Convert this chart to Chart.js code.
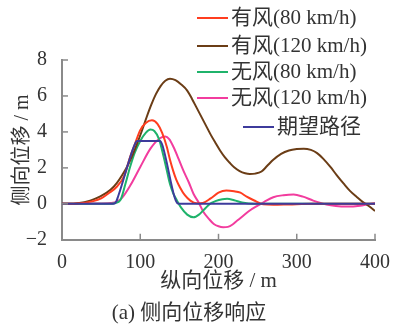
<!DOCTYPE html>
<html>
<head>
<meta charset="utf-8">
<script src="https://cdn.jsdelivr.net/npm/chart.js@4.4.1/dist/chart.umd.min.js"></script>
<style>
html, body { margin: 0; padding: 0; background: #fff; }
</style>
</head>
<body>
<canvas id="dispChart" width="393" height="328"></canvas>
<script>
// longitudinal position (m) and lateral displacement (m)
const windLowX  = [0, 20, 40, 50, 60, 70, 80, 87, 93, 100, 107, 115, 122, 128, 134, 138, 142, 146, 151, 157, 164, 172, 180, 190, 200, 210, 220, 228, 236, 245, 257, 270, 290, 320, 400];
const windLowY  = [0, 0.02, 0.15, 0.3, 0.6, 0.95, 1.6, 2.6, 3.3, 4.1, 4.5, 4.65, 4.45, 3.95, 3.16, 2.45, 1.85, 1.35, 0.9, 0.48, 0.18, 0.03, 0.05, 0.3, 0.62, 0.74, 0.7, 0.62, 0.4, 0.2, -0.03, -0.05, -0.03, 0, 0];

const windHighX = [0, 10, 20, 36, 49, 62, 70, 77, 83, 90, 96, 102, 108, 114, 120, 126, 132, 138, 145, 152, 160, 166, 172, 178, 184, 190, 196, 202, 208, 214, 220, 227, 234, 240, 247, 255, 262, 270, 280, 290, 300, 309, 318, 326, 334, 343, 351, 360, 368, 377, 385, 392, 400];
const windHighY = [0, 0, 0.03, 0.18, 0.41, 0.78, 1.15, 1.6, 2.05, 2.7, 3.35, 4.05, 4.8, 5.5, 6.1, 6.55, 6.85, 6.96, 6.88, 6.65, 6.3, 5.85, 5.35, 4.85, 4.35, 3.85, 3.4, 2.97, 2.6, 2.3, 2.03, 1.82, 1.7, 1.66, 1.68, 1.8, 2.1, 2.45, 2.78, 2.97, 3.05, 3.07, 3.0, 2.82, 2.5, 2.05, 1.6, 1.12, 0.72, 0.37, 0.08, -0.12, -0.4];

const calmLowX  = [0, 60, 68, 74.5, 81, 87, 93, 100, 107, 113, 118, 124, 130, 134, 138, 142, 147, 152, 160, 168, 175, 182, 189, 196, 205, 211, 220, 230, 245, 400];
const calmLowY  = [0, 0, 0.05, 0.2, 1.1, 2.05, 2.85, 3.5, 3.95, 4.13, 4.05, 3.6, 2.6, 1.85, 1.1, 0.6, 0.18, -0.2, -0.6, -0.75, -0.6, -0.3, 0, 0.15, 0.26, 0.28, 0.2, 0.08, 0, 0];

const calmHighX = [0, 40, 62, 70, 77, 87, 100, 113, 125, 132, 137, 142.5, 149, 155, 162, 168, 175, 181, 188, 194, 200, 206, 212, 218, 224, 232, 240, 250, 258, 270, 283, 296, 308, 321, 338, 350, 364, 381, 400];
const calmHighY = [0, 0.02, 0.05, 0.12, 0.35, 1.0, 2.05, 3.07, 3.65, 3.75, 3.6, 3.16, 2.5, 1.86, 1.2, 0.56, 0.05, -0.47, -0.85, -1.12, -1.25, -1.3, -1.28, -1.15, -0.93, -0.65, -0.37, -0.1, 0.1, 0.37, 0.48, 0.52, 0.4, 0.18, -0.04, -0.12, -0.15, -0.1, 0.05];

const targetX   = [0, 66, 69, 72, 93, 96, 125, 128, 144, 147, 150, 400];
const targetY   = [0, 0, 0.1, 0.45, 3.3, 3.5, 3.5, 3.3, 0.35, 0.05, 0, 0];

const xTicks = [0, 100, 200, 300, 400];
const yTicks = [-2, 0, 2, 4, 6, 8];

const seriesNames = ['有风(80 km/h)', '有风(120 km/h)', '无风(80 km/h)', '无风(120 km/h)', '期望路径'];
const seriesColors = ['#ff3d1f', '#6b3d16', '#1fb36b', '#f23c9e', '#3d3b9c'];

const axisGray = '#8a8a8a';
const textColor = '#333';
const FONT = '"Liberation Serif", "Times New Roman", "DejaVu Serif", "Noto Sans CJK SC", serif';

function toPoints(xs, ys) {
    return xs.map((x, i) => ({ x: x, y: ys[i] }));
}

const seriesData = [
    toPoints(windLowX, windLowY),
    toPoints(windHighX, windHighY),
    toPoints(calmLowX, calmLowY),
    toPoints(calmHighX, calmHighY),
    toPoints(targetX, targetY)
];

// ticks drawn inward from the axes
const innerTicks = {
    id: 'innerTicks',
    afterDatasetsDraw(chart) {
        const { ctx, chartArea, scales: { x, y } } = chart;
        ctx.save();
        ctx.strokeStyle = axisGray;
        ctx.lineWidth = 1.5;
        x.ticks.forEach(t => {
            const px = x.getPixelForValue(t.value);
            ctx.beginPath();
            ctx.moveTo(px, chartArea.bottom);
            ctx.lineTo(px, chartArea.bottom - 6);
            ctx.stroke();
        });
        y.ticks.forEach(t => {
            const py = y.getPixelForValue(t.value);
            ctx.beginPath();
            ctx.moveTo(chartArea.left, py);
            ctx.lineTo(chartArea.left + 6, py);
            ctx.stroke();
        });
        ctx.restore();
    }
};

// legend in the upper right, partly above the plot area
const legendRows = [
    { y: 18, lineX: 197 },
    { y: 46, lineX: 197 },
    { y: 72, lineX: 197 },
    { y: 98, lineX: 197 },
    { y: 127, lineX: 243 }
];

const cornerLegend = {
    id: 'cornerLegend',
    afterDraw(chart) {
        const ctx = chart.ctx;
        ctx.save();
        ctx.font = '21px ' + FONT;
        ctx.textBaseline = 'middle';
        ctx.textAlign = 'left';
        chart.data.datasets.forEach((ds, i) => {
            const row = legendRows[i];
            ctx.strokeStyle = ds.borderColor;
            ctx.lineWidth = 2;
            ctx.beginPath();
            ctx.moveTo(row.lineX, row.y);
            ctx.lineTo(row.lineX + 31, row.y);
            ctx.stroke();
            ctx.fillStyle = textColor;
            ctx.fillText(ds.label, row.lineX + 34, row.y);
        });
        ctx.restore();
    }
};

Chart.defaults.font.family = FONT;
Chart.defaults.color = textColor;

new Chart(document.getElementById('dispChart'), {
    type: 'line',
    data: {
        datasets: seriesData.map((pts, i) => ({
            label: seriesNames[i],
            data: pts,
            borderColor: seriesColors[i],
            backgroundColor: seriesColors[i],
            borderWidth: 2,
            pointRadius: 0,
            fill: false,
            cubicInterpolationMode: 'monotone',
            order: i === 4 ? 0 : 1
        }))
    },
    options: {
        responsive: false,
        animation: false,
        layout: {
            padding: { top: 60, right: 17, bottom: 2, left: 2 }
        },
        plugins: {
            legend: { display: false },
            tooltip: { enabled: false },
            title: {
                display: true,
                position: 'bottom',
                text: '(a) 侧向位移响应',
                color: textColor,
                font: { size: 21, weight: 'normal', lineHeight: 1.2 },
                padding: 0
            }
        },
        scales: {
            x: {
                type: 'linear',
                min: 0,
                max: 400,
                afterBuildTicks: s => { s.ticks = xTicks.map(v => ({ value: v })); },
                afterFit: s => { s.height = 61; },
                grid: { display: false },
                border: { display: true, color: axisGray, width: 2 },
                ticks: {
                    color: textColor,
                    font: { size: 20 },
                    padding: 3,
                    maxRotation: 0
                },
                title: {
                    display: true,
                    text: '纵向位移 / m',
                    color: textColor,
                    font: { size: 21, lineHeight: 1.2 },
                    padding: { top: 0, bottom: 7 }
                }
            },
            y: {
                min: -2,
                max: 8,
                afterBuildTicks: s => { s.ticks = yTicks.map(v => ({ value: v })); },
                afterFit: s => { s.width = 60; },
                grid: { display: false },
                border: { display: true, color: axisGray, width: 2 },
                ticks: {
                    color: textColor,
                    font: { size: 20 },
                    padding: 7,
                    callback: v => String(v).replace('-', '\u2212')
                },
                title: {
                    display: true,
                    text: '侧向位移 / m',
                    color: textColor,
                    font: { size: 20, lineHeight: 1.2 },
                    padding: { top: 9, bottom: 0 }
                }
            }
        }
    },
    plugins: [innerTicks, cornerLegend]
});
</script>
</body>
</html>
